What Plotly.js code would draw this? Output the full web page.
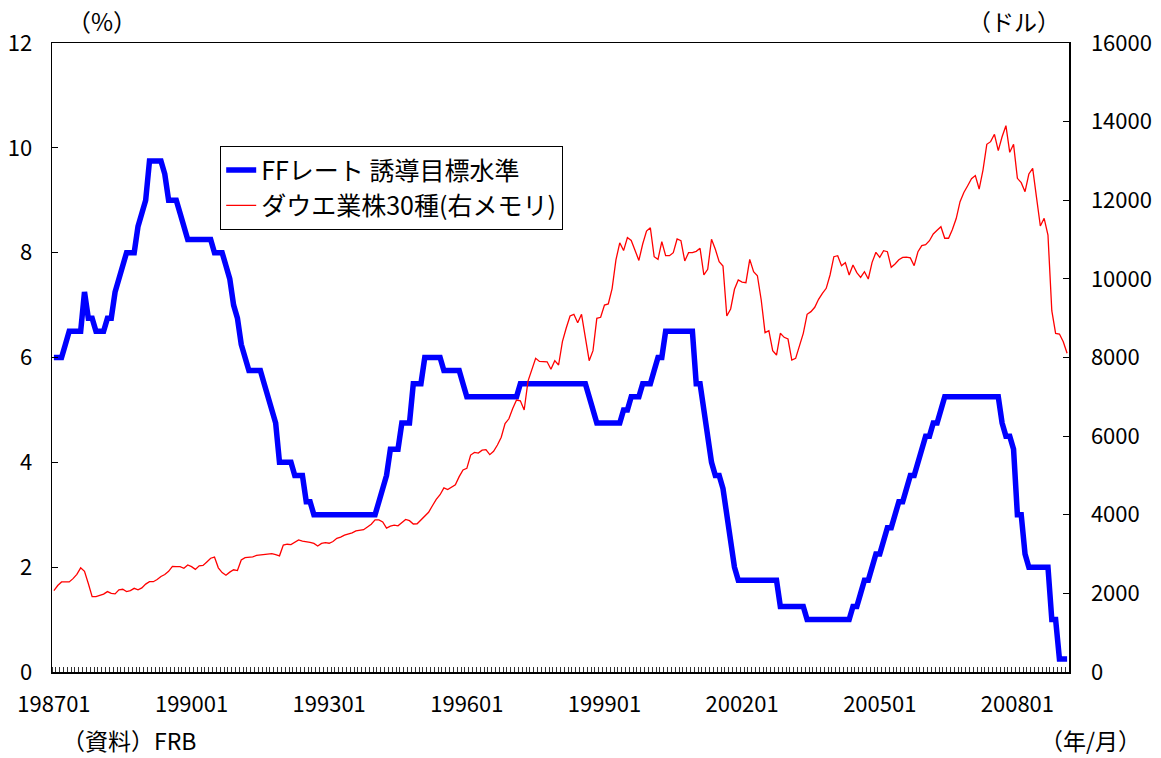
<!DOCTYPE html>
<html>
<head>
<meta charset="utf-8">
<script src="https://cdn.plot.ly/plotly-3.0.1.min.js"></script>
<style>html,body{margin:0;padding:0;background:#fff;}#chart{width:1161px;height:758px;}</style>
</head>
<body>
<div id="chart"></div>
<script>
// Monthly observations, 1987-01 .. 2009-02
const startYear = 1987;
const tickLabels = ['198701','199001','199301','199601','199901','200201','200501','200801'];

// FF rate target level (%), month by month, one row per year
const ffRate = [
  6.0, 6.0, 6.0, 6.25, 6.5, 6.5, 6.5, 6.5, 7.25, 6.75, 6.75, 6.5,        // 1987
  6.5, 6.5, 6.75, 6.75, 7.25, 7.5, 7.75, 8.0, 8.0, 8.0, 8.5, 8.75,        // 1988
  9.0, 9.75, 9.75, 9.75, 9.75, 9.5, 9.0, 9.0, 9.0, 8.75, 8.5, 8.25,       // 1989
  8.25, 8.25, 8.25, 8.25, 8.25, 8.25, 8.0, 8.0, 8.0, 7.75, 7.5, 7.0,      // 1990
  6.75, 6.25, 6.0, 5.75, 5.75, 5.75, 5.75, 5.5, 5.25, 5.0, 4.75, 4.0,     // 1991
  4.0, 4.0, 4.0, 3.75, 3.75, 3.75, 3.25, 3.25, 3.0, 3.0, 3.0, 3.0,        // 1992
  3.0, 3.0, 3.0, 3.0, 3.0, 3.0, 3.0, 3.0, 3.0, 3.0, 3.0, 3.0,             // 1993
  3.0, 3.25, 3.5, 3.75, 4.25, 4.25, 4.25, 4.75, 4.75, 4.75, 5.5, 5.5,     // 1994
  5.5, 6.0, 6.0, 6.0, 6.0, 6.0, 5.75, 5.75, 5.75, 5.75, 5.75, 5.5,        // 1995
  5.25, 5.25, 5.25, 5.25, 5.25, 5.25, 5.25, 5.25, 5.25, 5.25, 5.25, 5.25, // 1996
  5.25, 5.25, 5.5, 5.5, 5.5, 5.5, 5.5, 5.5, 5.5, 5.5, 5.5, 5.5,           // 1997
  5.5, 5.5, 5.5, 5.5, 5.5, 5.5, 5.5, 5.5, 5.25, 5.0, 4.75, 4.75,          // 1998
  4.75, 4.75, 4.75, 4.75, 4.75, 5.0, 5.0, 5.25, 5.25, 5.25, 5.5, 5.5,     // 1999
  5.5, 5.75, 6.0, 6.0, 6.5, 6.5, 6.5, 6.5, 6.5, 6.5, 6.5, 6.5,            // 2000
  5.5, 5.5, 5.0, 4.5, 4.0, 3.75, 3.75, 3.5, 3.0, 2.5, 2.0, 1.75,          // 2001
  1.75, 1.75, 1.75, 1.75, 1.75, 1.75, 1.75, 1.75, 1.75, 1.75, 1.25, 1.25, // 2002
  1.25, 1.25, 1.25, 1.25, 1.25, 1.0, 1.0, 1.0, 1.0, 1.0, 1.0, 1.0,        // 2003
  1.0, 1.0, 1.0, 1.0, 1.0, 1.25, 1.25, 1.5, 1.75, 1.75, 2.0, 2.25,        // 2004
  2.25, 2.5, 2.75, 2.75, 3.0, 3.25, 3.25, 3.5, 3.75, 3.75, 4.0, 4.25,     // 2005
  4.5, 4.5, 4.75, 4.75, 5.0, 5.25, 5.25, 5.25, 5.25, 5.25, 5.25, 5.25,    // 2006
  5.25, 5.25, 5.25, 5.25, 5.25, 5.25, 5.25, 5.25, 4.75, 4.5, 4.5, 4.25,   // 2007
  3.0, 3.0, 2.25, 2.0, 2.0, 2.0, 2.0, 2.0, 2.0, 1.0, 1.0, 0.25,           // 2008
  0.25, 0.25                                                              // 2009
];

// Dow Jones Industrial Average (dollars), month by month
const dow = [
  2068, 2200, 2290, 2300, 2292, 2375, 2485, 2650, 2560, 2250, 1916, 1916,          // 1987
  1950, 1980, 2045, 2000, 1987, 2090, 2105, 2045, 2070, 2128, 2090, 2140,          // 1988
  2236, 2297, 2297, 2351, 2430, 2480, 2560, 2685, 2680, 2680, 2637, 2722,          // 1989
  2680, 2610, 2700, 2710, 2800, 2894, 2925, 2650, 2530, 2460, 2540, 2600,          // 1990
  2580, 2850, 2910, 2920, 2930, 2965, 2975, 2995, 3000, 3010, 2985, 2955,          // 1991
  3230, 3250, 3240, 3300, 3360, 3330, 3320, 3300, 3270, 3205, 3270, 3290,          // 1992
  3275, 3320, 3400, 3430, 3480, 3510, 3540, 3590, 3600, 3620, 3690, 3760,          // 1993
  3868, 3870, 3816, 3661, 3708, 3737, 3718, 3797, 3880, 3850, 3765, 3770,          // 1994
  3872, 3954, 4062, 4230, 4390, 4510, 4685, 4640, 4700, 4760, 4970, 5140,          // 1995
  5180, 5518, 5587, 5569, 5643, 5655, 5529, 5616, 5775, 5972, 6318, 6441,          // 1996
  6703, 6918, 6900, 6664, 7400, 7680, 7979, 7900, 7894, 7890, 7700, 7920,          // 1997
  7809, 8402, 8750, 9056, 9099, 8885, 9099, 8500, 7920, 8173, 8997, 9023,          // 1998
  9335, 9361, 9753, 10483, 10918, 10720, 11051, 10978, 10724, 10470, 10887, 11215, // 1999
  11300, 10565, 10497, 10946, 10590, 10590, 10666, 11014, 10971, 10455, 10666, 10666, // 2000
  10700, 10778, 10099, 10244, 11007, 10752, 10437, 10328, 9056, 9234, 9735, 9971,  // 2001
  9920, 9903, 10497, 10183, 10081, 9463, 8631, 8682, 8173, 8063, 8615, 8513,       // 2002
  8470, 7936, 7979, 8292, 8615, 9099, 9166, 9277, 9480, 9633, 9760, 10099,         // 2003
  10565, 10590, 10336, 10412, 10099, 10353, 10158, 10040, 10183, 9997, 10421, 10675, // 2004
  10548, 10717, 10692, 10294, 10377, 10486, 10545, 10554, 10533, 10336, 10692, 10845, // 2005
  10872, 10971, 11141, 11235, 11327, 11034, 11033, 11257, 11534, 11963, 12197, 12370, // 2006
  12550, 12628, 12286, 12769, 13423, 13490, 13677, 13261, 13615, 13896, 13220, 13423, // 2007
  12558, 12447, 12218, 12668, 12812, 12075, 11345, 11541, 11116, 9191, 8615, 8598, // 2008
  8402, 8107                                                                       // 2009
];

// month index for each observation (category position)
const idx = ffRate.map((_, i) => i);
const tickVals = tickLabels.map(t => (parseInt(t.slice(0,4)) - startYear) * 12 + parseInt(t.slice(4)) - 1);

const FONT = '"Noto Sans CJK JP", "Noto Sans", sans-serif';
const PW = 1017, PH = 629;

const traces = [
  {x: idx, y: ffRate, type: 'scatter', mode: 'lines', name: 'FFレート 誘導目標水準',
   line: {color: '#0000FF', width: 5.5}, yaxis: 'y'},
  {x: idx, y: dow, type: 'scatter', mode: 'lines', name: 'ダウエ業株30種(右メモリ)',
   line: {color: '#FF0000', width: 1.3}, yaxis: 'y2'}
];

const layout = {
  width: 1161, height: 758,
  margin: {l: 52, r: 92, t: 43, b: 86, pad: 0},
  paper_bgcolor: '#fff', plot_bgcolor: '#fff',
  font: {family: FONT, size: 22, color: '#000'},
  showlegend: true,
  legend: {x: 168/PW, y: 1 - 103/PH, xanchor: 'left', yanchor: 'top',
           bgcolor: '#fff', bordercolor: '#000', borderwidth: 1.2,
           font: {family: FONT, size: 25, color: '#000'}, tracegroupgap: 0},
  xaxis: {range: [-0.5, idx.length - 0.5], tickmode: 'array', tickvals: tickVals, ticktext: tickLabels,
          ticks: '', showline: true, linecolor: '#000', linewidth: 1.5, mirror: true,
          showgrid: false, zeroline: false, ticklabelstandoff: 12,
          tickfont: {family: FONT, size: 22, color: '#000'},
          minor: {ticks: 'inside', tickmode: 'linear', tick0: -0.5, dtick: 1, ticklen: 5,
                  tickcolor: '#000', tickwidth: 0.8, showgrid: false}},
  yaxis: {range: [0, 12], tickmode: 'linear', tick0: 0, dtick: 2, ticks: 'inside', ticklen: 6,
          tickcolor: '#000', showline: true, linecolor: '#000', linewidth: 1.5, mirror: true,
          showgrid: false, zeroline: false, ticklabelstandoff: 14,
          tickfont: {family: FONT, size: 22, color: '#000'}},
  yaxis2: {range: [0, 16000], tickmode: 'linear', tick0: 0, dtick: 2000, overlaying: 'y', side: 'right',
           ticks: 'inside', ticklen: 6, tickcolor: '#000', showline: true, linecolor: '#000', linewidth: 1.5,
           showgrid: false, zeroline: false, tickformat: 'd', ticklabelstandoff: 16,
           tickfont: {family: FONT, size: 22, color: '#000'}},
  annotations: [
    {text: '（%）', xref: 'paper', yref: 'paper', x: 50/PW, y: 1 + 22/PH, xanchor: 'center', yanchor: 'middle',
     showarrow: false, font: {family: FONT, size: 24, color: '#000'}},
    {text: '（ドル）', xref: 'paper', yref: 'paper', x: 962/PW, y: 1 + 22/PH, xanchor: 'center', yanchor: 'middle',
     showarrow: false, font: {family: FONT, size: 23, color: '#000'}},
    {text: '（資料）FRB', xref: 'paper', yref: 'paper', x: 8/PW, y: -68/PH, xanchor: 'left', yanchor: 'middle',
     showarrow: false, font: {family: FONT, size: 23, color: '#000'}},
    {text: '（年/月）', xref: 'paper', yref: 'paper', x: 1038/PW, y: -68/PH, xanchor: 'center', yanchor: 'middle',
     showarrow: false, font: {family: FONT, size: 23, color: '#000'}}
  ]
};

Plotly.newPlot('chart', traces, layout, {displayModeBar: false, staticPlot: true});
</script>
</body>
</html>
